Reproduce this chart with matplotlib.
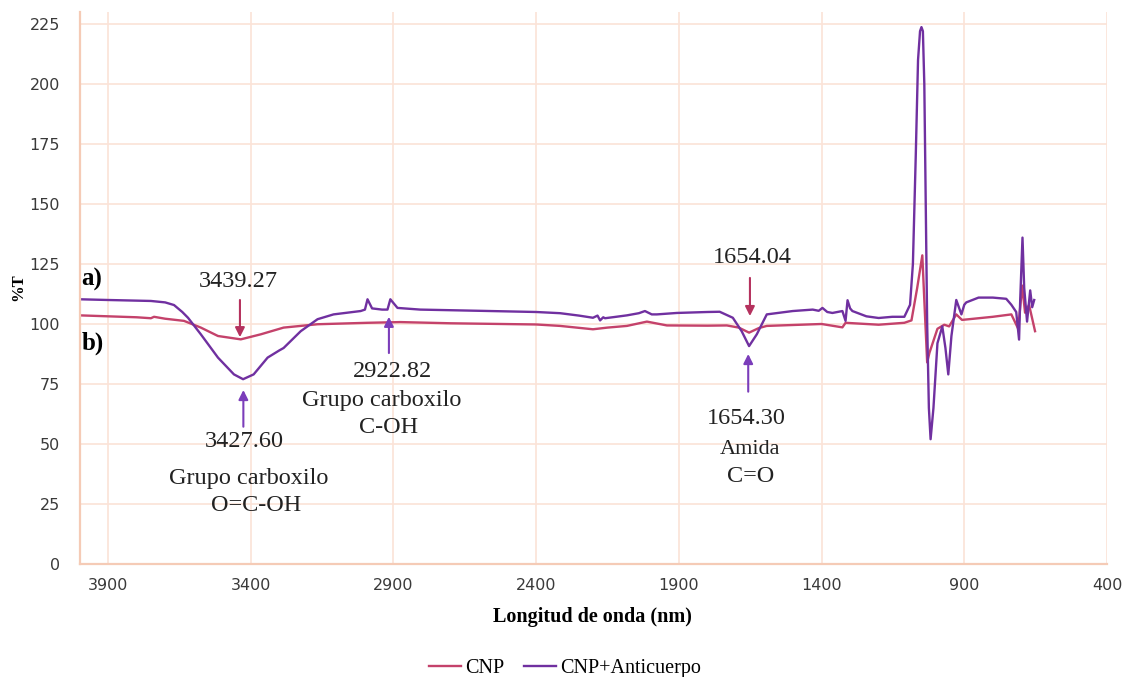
import matplotlib.pyplot as plt

# espectro CNP (a)
cnp_wn = [4000, 3900, 3800, 3750, 3739, 3700, 3634, 3575, 3515, 3435, 3365, 3285,
          3166, 2991, 2876, 2700, 2400, 2316, 2201, 2150, 2082, 2012, 1942, 1800,
          1732, 1690, 1654, 1620, 1592, 1400, 1327, 1316, 1200, 1110, 1085, 1065,
          1047, 1040, 1030, 1022, 994, 970, 953, 928, 908, 800, 735, 711, 697, 687,
          673, 652]
cnp_t = [103.6, 103.2, 102.8, 102.4, 103.0, 102.2, 101.3, 98.5, 95.0, 93.6, 95.7, 98.5,
         99.9, 100.5, 100.8, 100.3, 99.8, 99.2, 97.8, 98.5, 99.2, 101.0, 99.4, 99.3,
         99.4, 98.5, 96.4, 98.3, 99.2, 100.0, 98.6, 100.5, 99.7, 100.5, 101.5, 115.0,
         128.6, 110.0, 84.0, 88.0, 98.0, 99.7, 99.0, 104.0, 101.7, 103.0, 104.0, 98.0, 116.0, 104.7,
         108.0, 97.0]

# espectro CNP + anticuerpo (b)
anti_wn = [4000, 3900, 3750, 3700, 3669, 3640, 3620, 3575, 3515, 3459, 3427, 3390,
           3341, 3300, 3285, 3225, 3166, 3110, 3015, 3000, 2991, 2975, 2940, 2921,
           2911, 2886, 2806, 2600, 2400, 2316, 2250, 2201, 2185, 2176, 2165, 2159,
           2120, 2082, 2040, 2019, 1995, 1977, 1907, 1800, 1757, 1711, 1680, 1654,
           1627, 1592, 1501, 1431, 1410, 1397, 1380, 1362, 1327, 1316, 1309, 1300,
           1292, 1243, 1200, 1152, 1110, 1090, 1080, 1070, 1062, 1055, 1050, 1045,
           1040, 1035, 1030, 1024, 1018, 1008, 994, 977, 966, 956, 945, 928, 910, 900,
           893, 850, 800, 753, 735, 718, 708, 704, 696, 690, 680, 669, 662, 655]
anti_t = [110.3, 110.0, 109.6, 109.0, 107.9, 105.0, 102.6, 95.7, 86.0, 79.0, 77.0, 79.0,
          86.0, 89.0, 90.0, 97.0, 102.0, 104.0, 105.4, 106.0, 110.3, 106.5, 106.0, 106.0,
          110.3, 106.7, 106.0, 105.5, 105.0, 104.5, 103.5, 102.6, 103.5, 101.5, 102.8, 102.4,
          103.0, 103.6, 104.5, 105.4, 104.0, 104.0, 104.6, 105.0, 105.1, 102.6, 97.0, 90.8,
          95.7, 104.0, 105.4, 106.0, 105.5, 106.7, 105.0, 104.6, 105.4, 101.3, 109.9, 106.5,
          105.4, 103.2, 102.5, 103.0, 103.0, 108.0, 125.0, 170.0, 210.0, 222.0, 223.7, 222.0,
          200.0, 150.0, 100.0, 65.0, 52.0, 65.0, 92.0, 99.0, 90.0, 79.0, 95.0, 110.0, 104.0, 108.0,
          109.0, 111.0, 111.0, 110.5, 108.0, 105.0, 93.5, 110.0, 136.0, 115.0, 101.0, 114.0, 107.0,
          110.0]

x_ticks = [3900, 3400, 2900, 2400, 1900, 1400, 900, 400]
y_ticks = [0, 25, 50, 75, 100, 125, 150, 175, 200, 225]

RED = "#C4426B"
PURPLE = "#7030A0"
RED_ARROW = "#B5325E"
PURPLE_ARROW = "#7B3DBA"
GRID = "#FBE3D7"
SPINE = "#F5CBB6"
SERIF = "Liberation Serif"

fig = plt.figure(figsize=(11.22, 6.77), dpi=100)
ax = fig.add_axes([0.0709, 0.1669, 0.9157, 0.8154])

ax.plot(cnp_wn, cnp_t, color=RED, lw=1.7, label="CNP")
ax.plot(anti_wn, anti_t, color=PURPLE, lw=1.7, label="CNP+Anticuerpo")

ax.set_xlim(4000, 400)
ax.set_ylim(0, 230)
ax.set_xticks(x_ticks)
ax.set_yticks(y_ticks)
ax.grid(True, color=GRID, lw=1.2)
ax.set_axisbelow(True)
ax.tick_params(length=0, labelsize=11.5, labelcolor="#3a3a3a", pad=10)
ax.tick_params(axis="y", pad=14)
for side in ["top", "right"]:
    ax.spines[side].set_visible(False)
for side in ["left", "bottom"]:
    ax.spines[side].set_color(SPINE)
    ax.spines[side].set_linewidth(1.6)

fs = 17.5

# flechas de las bandas
def arrow(x, y0, y1, color):
    ax.annotate("", xy=(x, y1), xytext=(x, y0),
                arrowprops=dict(arrowstyle="-|>", color=color, lw=1.5,
                                mutation_scale=14, shrinkA=0, shrinkB=0))

arrow(3438, 110, 94.5, RED_ARROW)
arrow(3426, 57.2, 72.5, PURPLE_ARROW)
arrow(2916, 87.9, 103, PURPLE_ARROW)
arrow(1651, 119.2, 103.3, RED_ARROW)
arrow(1657, 71.8, 87.5, PURPLE_ARROW)

def label(x, y, s, size=fs):
    ax.text(x, y, s, ha="center", va="center", fontsize=size,
            family=SERIF, color="#222222")

label(3445, 117.6, "3439.27")
label(3424, 51, "3427.60")
label(3406, 35.8, "Grupo carboxilo")
label(3382, 24.2, "O=C-OH")
label(2902, 80, "2922.82")
label(2940, 68.3, "Grupo carboxilo")
label(2916, 56.7, "C-OH")
label(1641, 127.5, "1654.04")
label(1663, 60.8, "1654.30")
label(1649, 47.9, "Amida", 16)
label(1649, 36.4, "C=O")

ax.text(3993, 118.7, "a)", ha="left", va="center", fontsize=18,
        fontweight="bold", family=SERIF)
ax.text(3993, 92, "b)", ha="left", va="center", fontsize=18,
        fontweight="bold", family=SERIF)

fig.text(18 / 1122, 1 - 287 / 677, "%T", rotation=90, ha="center", va="center",
         fontsize=12, fontweight="bold", family=SERIF)
fig.text(592 / 1122, 1 - 617 / 677, "Longitud de onda (nm)", ha="center",
         va="center", fontsize=14.5, fontweight="bold", family=SERIF)

fig.legend(loc="center", bbox_to_anchor=(565 / 1122, 1 - 668 / 677), ncol=2,
           frameon=False, prop={"family": SERIF, "size": 14.5},
           handlelength=1.6, handletextpad=0.2, columnspacing=1.0)

fig.savefig("out.png", dpi=100)
